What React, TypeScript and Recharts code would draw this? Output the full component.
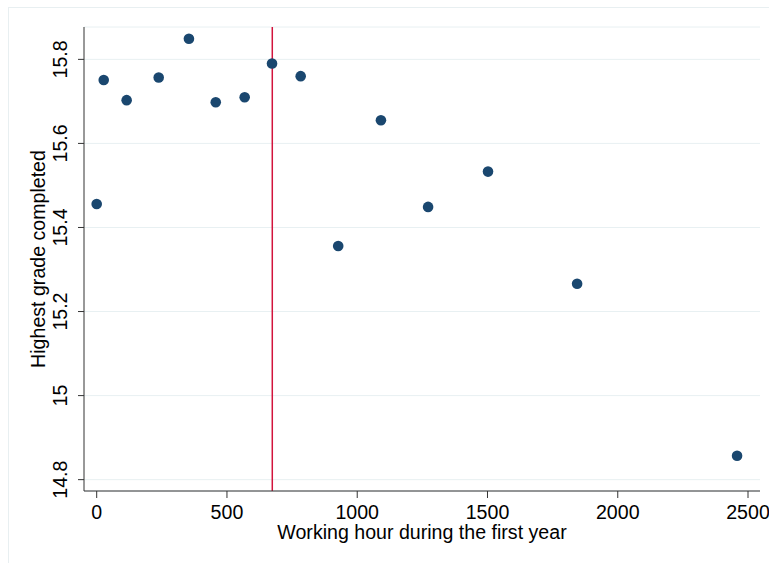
import React from 'react';
import {
  ScatterChart,
  Scatter,
  XAxis,
  YAxis,
  CartesianGrid,
  ReferenceLine,
  Label,
} from 'recharts';

const hours = [0, 27, 115, 238, 354, 457, 568, 673, 783, 927, 1091, 1272, 1502, 1844, 2458];
const grades = [15.456, 15.751, 15.703, 15.757, 15.849, 15.698, 15.71, 15.79, 15.76, 15.356, 15.655, 15.449, 15.533, 15.266, 14.857];
const xTicks = [0, 500, 1000, 1500, 2000, 2500];
const yTicks = [14.8, 15, 15.2, 15.4, 15.6, 15.8];
const cutoff = 674;

const data = hours.map((h, i) => ({ x: h, y: grades[i] }));

const FONT = '"Liberation Sans", Arial, Helvetica, sans-serif';
const FS = 19.6;
const DOT = '#1a476f';

const YTick = (props: any) => {
  const { x, y, payload } = props;
  const bx = x - 9;
  const label = Number.isInteger(payload.value) ? String(payload.value) : payload.value.toFixed(1);
  return (
    <text
      x={bx}
      y={y}
      transform={`rotate(-90, ${bx}, ${y})`}
      textAnchor="middle"
      fontSize={FS}
      fontFamily={FONT}
      fill="#000"
    >
      {label}
    </text>
  );
};

const YTitle = (props: any) => {
  const vb = props.viewBox || {};
  const bx = (vb.x || 0) + 44.5;
  const cy = (vb.y || 0) + (vb.height || 0) / 2;
  return (
    <text
      x={bx}
      y={cy}
      transform={`rotate(-90, ${bx}, ${cy})`}
      textAnchor="middle"
      fontSize={FS}
      fontFamily={FONT}
      fill="#000"
    >
      Highest grade completed
    </text>
  );
};

const Dot = (props: any) => <circle cx={props.cx} cy={props.cy} r={5.3} fill={DOT} />;

export default function App() {
  return (
    <div
      style={{
        position: 'absolute',
        left: 0,
        top: 0,
        width: 769,
        height: 563,
        overflow: 'hidden',
        background: '#fff',
      }}
    >
      <div
        style={{
          position: 'absolute',
          left: 8,
          top: 7,
          width: 800,
          height: 600,
          border: '1px solid #e8eff1',
          boxSizing: 'border-box',
        }}
      />
      <div style={{ position: 'absolute', left: 0, top: 0 }}>
        <ScatterChart width={769} height={563} margin={{ top: 27, right: 9, bottom: 0, left: 0 }}>
          <CartesianGrid horizontal vertical={false} stroke="#e8f0f2" strokeWidth={1} />
          <XAxis
            type="number"
            dataKey="x"
            domain={[-48.7, 2546]}
            ticks={xTicks}
            allowDataOverflow
            height={72}
            tickSize={7}
            tickMargin={7}
            stroke="#333"
            tick={{ fontSize: FS, fontFamily: FONT, fill: '#000' }}
            tickLine={{ stroke: '#333' }}
          >
            <Label
              value="Working hour during the first year"
              position="insideBottom"
              offset={24}
              style={{ fontSize: FS, fontFamily: FONT, fill: '#000' }}
            />
          </XAxis>
          <YAxis
            type="number"
            dataKey="y"
            domain={[14.773, 15.877]}
            ticks={yTicks}
            allowDataOverflow
            width={84}
            tickSize={6}
            tickMargin={2}
            stroke="#333"
            tick={<YTick />}
            tickLine={{ stroke: '#333' }}
          >
            <Label content={<YTitle />} />
          </YAxis>
          <ReferenceLine x={cutoff} stroke="#d2143c" strokeWidth={1.5} ifOverflow="visible" />
          <Scatter data={data} shape={<Dot />} isAnimationActive={false} />
        </ScatterChart>
      </div>
    </div>
  );
}
